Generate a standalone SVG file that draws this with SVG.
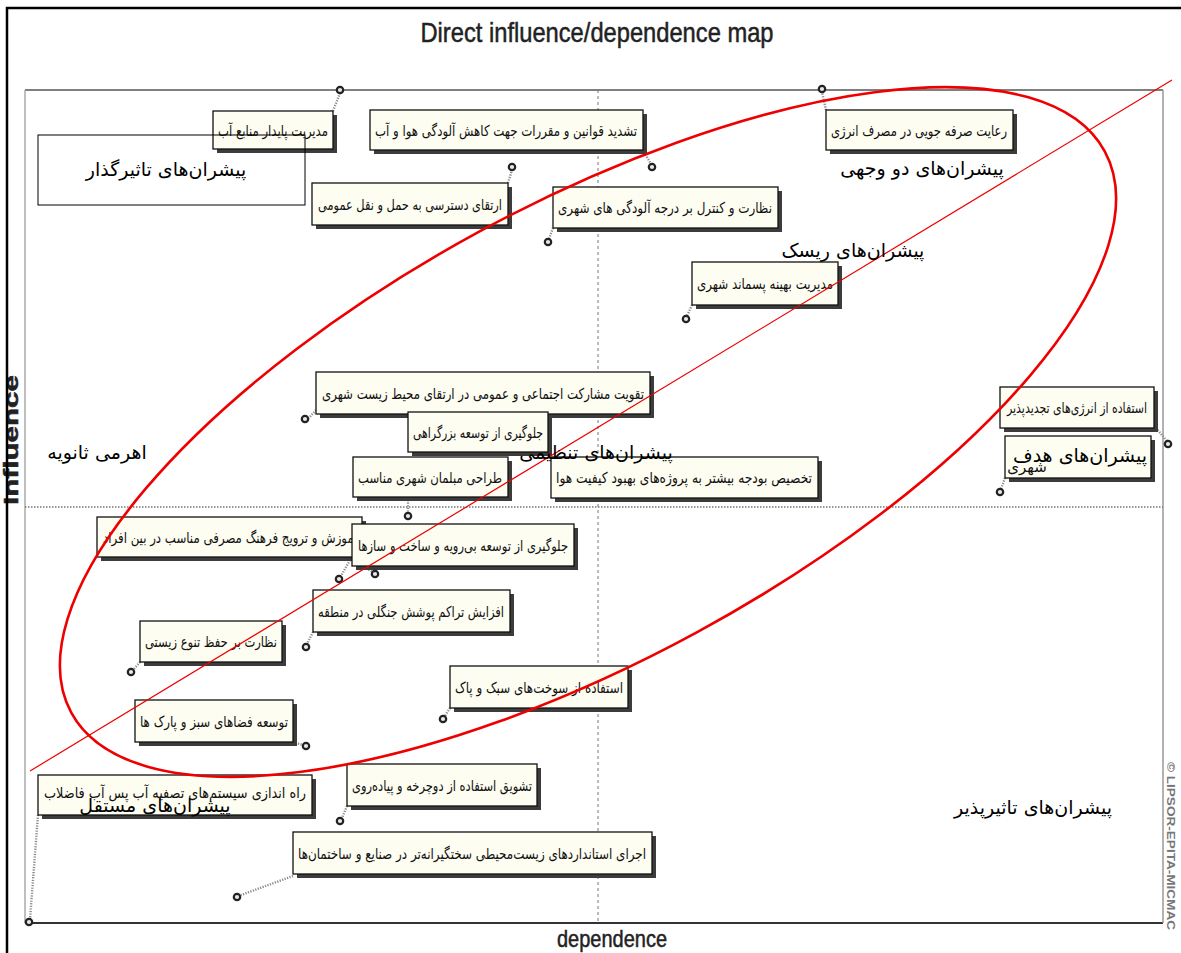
<svg xmlns="http://www.w3.org/2000/svg" width="1181" height="953" viewBox="0 0 1181 953">
<style>
.sh{fill:#3c3c3c}
.bx{fill:#fdfdf1;stroke:#111;stroke-width:1.3}
.nt{font-family:'DejaVu Sans',sans-serif;font-size:15px;fill:#111;text-anchor:middle;direction:rtl}
.ld{stroke:#8a8a8a;stroke-width:2.4;stroke-dasharray:1.2 1.4;fill:none}
.pt{fill:#e8e8e8;stroke:#222;stroke-width:2.2}
.lb{font-family:'DejaVu Sans',sans-serif;font-size:19px;fill:#000;text-anchor:middle;direction:rtl}
.ax{font-family:'Liberation Sans',Arial,sans-serif;fill:#222;stroke:#222;stroke-width:0.5}
</style>
<rect x="0" y="0" width="1181" height="953" fill="#fff"/>
<text class="ax" x="18" y="440" font-size="21" font-weight="bold" text-anchor="middle" transform="rotate(-90 18 440)" textLength="130" lengthAdjust="spacingAndGlyphs">Influence</text>
<rect x="7" y="8" width="1200" height="1000" fill="none" stroke="#000" stroke-width="2.5"/>
<text class="ax" x="597" y="42" font-size="28" text-anchor="middle" textLength="353" lengthAdjust="spacingAndGlyphs">Direct influence/dependence map</text>
<text class="ax" x="612" y="947" font-size="24" text-anchor="middle" textLength="110" lengthAdjust="spacingAndGlyphs">dependence</text>
<text x="1167" y="846" font-family="'Liberation Sans',Arial,sans-serif" font-size="10" font-weight="bold" fill="#777" text-anchor="middle" transform="rotate(90 1167 846)" textLength="168" lengthAdjust="spacingAndGlyphs">© LIPSOR-EPITA-MICMAC</text>
<g id="plot-frame">
<line x1="25" y1="90" x2="1163" y2="90" stroke="#555" stroke-width="1.5"/>
<line x1="25" y1="923" x2="1163" y2="923" stroke="#333" stroke-width="1.8"/>
<line x1="25" y1="90" x2="25" y2="923" stroke="#aaa" stroke-width="1.5"/>
<line x1="1163" y1="90" x2="1163" y2="923" stroke="#999" stroke-width="1.5"/>
<line x1="598" y1="90" x2="598" y2="923" stroke="#777" stroke-width="1" stroke-dasharray="3 3"/>
<line x1="25" y1="507" x2="1163" y2="507" stroke="#777" stroke-width="1.6" stroke-dasharray="1.5 1.5"/>
</g>
<g id="connectors">
<path class="ld" d="M333 111L340 93"/>
<path class="ld" d="M643 150L651 164"/>
<path class="ld" d="M826 110L822 92"/>
<path class="ld" d="M508 183L512 170"/>
<path class="ld" d="M553 228L549 239"/>
<path class="ld" d="M692 305L687 316"/>
<path class="ld" d="M316 410L309 418"/>
<path class="ld" d="M1156 428L1167 441"/>
<path class="ld" d="M1005 478L1001 489"/>
<path class="ld" d="M408 500L408 513"/>
<path class="ld" d="M350 560L341 576"/>
<path class="ld" d="M364 567L373 572"/>
<path class="ld" d="M313 632L307 644"/>
<path class="ld" d="M140 662L134 669"/>
<path class="ld" d="M450 708L445 716"/>
<path class="ld" d="M293 742L303 745"/>
<path class="ld" d="M38 815L30 919"/>
<path class="ld" d="M347 806L342 818"/>
<path class="ld" d="M293 876L241 895"/>
</g>
<g id="n13"><rect class="sh" x="101" y="521" width="265" height="40"/><rect class="bx" x="97" y="517" width="265" height="40"/><text class="nt" x="230" y="543" textLength="254" lengthAdjust="spacingAndGlyphs">آموزش و ترویج فرهنگ مصرفی مناسب در بین افراد</text></g>
<g id="n14"><rect class="sh" x="356" y="528" width="222" height="42"/><rect class="bx" x="352" y="524" width="222" height="42"/><text class="nt" x="463" y="551" textLength="210" lengthAdjust="spacingAndGlyphs">جلوگیری از توسعه بی‌رویه و ساخت و سازها</text></g>
<g id="n1"><rect class="sh" x="217" y="115" width="120" height="38"/><rect class="bx" x="213" y="111" width="120" height="38"/><text class="nt" x="273" y="136" textLength="110" lengthAdjust="spacingAndGlyphs">مدیریت پایدار منابع آب</text></g>
<g id="n2"><rect class="sh" x="374" y="114" width="273" height="40"/><rect class="bx" x="370" y="110" width="273" height="40"/><text class="nt" x="506" y="136" textLength="262" lengthAdjust="spacingAndGlyphs">تشدید قوانین و مقررات جهت کاهش آلودگی هوا و آب</text></g>
<g id="n3"><rect class="sh" x="830" y="114" width="187" height="40"/><rect class="bx" x="826" y="110" width="187" height="40"/><text class="nt" x="919" y="136" textLength="176" lengthAdjust="spacingAndGlyphs">رعایت صرفه جویی در مصرف انرژی</text></g>
<g id="n4"><rect class="sh" x="316" y="187" width="196" height="42"/><rect class="bx" x="312" y="183" width="196" height="42"/><text class="nt" x="410" y="210" textLength="184" lengthAdjust="spacingAndGlyphs">ارتقای دسترسی به حمل و نقل عمومی</text></g>
<g id="n5"><rect class="sh" x="557" y="191" width="225" height="41"/><rect class="bx" x="553" y="187" width="225" height="41"/><text class="nt" x="665" y="213" textLength="214" lengthAdjust="spacingAndGlyphs">نظارت و کنترل بر درجه آلودگی های شهری</text></g>
<g id="n6"><rect class="sh" x="696" y="266" width="146" height="43"/><rect class="bx" x="692" y="262" width="146" height="43"/><text class="nt" x="765" y="289" textLength="136" lengthAdjust="spacingAndGlyphs">مدیریت بهینه پسماند شهری</text></g>
<g id="n7"><rect class="sh" x="320" y="376" width="334" height="42"/><rect class="bx" x="316" y="372" width="334" height="42"/><text class="nt" x="483" y="399" textLength="322" lengthAdjust="spacingAndGlyphs">تقویت مشارکت اجتماعی و عمومی در ارتقای محیط زیست شهری</text></g>
<g id="n8"><rect class="sh" x="412" y="416" width="140" height="40"/><rect class="bx" x="408" y="412" width="140" height="40"/><text class="nt" x="478" y="438" textLength="130" lengthAdjust="spacingAndGlyphs">جلوگیری از توسعه بزرگراهی</text></g>
<g id="n9"><rect class="sh" x="357" y="461" width="155" height="40"/><rect class="bx" x="353" y="457" width="155" height="40"/><text class="nt" x="430" y="483" textLength="144" lengthAdjust="spacingAndGlyphs">طراحی مبلمان شهری مناسب</text></g>
<g id="n10"><rect class="sh" x="555" y="461" width="267" height="41"/><rect class="bx" x="551" y="457" width="267" height="41"/><text class="nt" x="684" y="483" textLength="256" lengthAdjust="spacingAndGlyphs">تخصیص بودجه بیشتر به پروژه‌های بهبود کیفیت هوا</text></g>
<g id="n11"><rect class="sh" x="1004" y="391" width="154" height="41"/><rect class="bx" x="1000" y="387" width="154" height="41"/><text class="nt" x="1077" y="413" font-size="14" textLength="140" lengthAdjust="spacingAndGlyphs">استفاده از انرژی‌های تجدیدپذیر</text></g>
<g id="n12"><rect class="sh" x="1009" y="440" width="146" height="42"/><rect class="bx" x="1005" y="436" width="146" height="42"/><text class="nt" x="1027" y="472" font-size="11">شهری</text></g>
<g id="n15"><rect class="sh" x="317" y="594" width="197" height="42"/><rect class="bx" x="313" y="590" width="197" height="42"/><text class="nt" x="411" y="617" textLength="186" lengthAdjust="spacingAndGlyphs">افزایش تراکم پوشش جنگلی در منطقه</text></g>
<g id="n16"><rect class="sh" x="144" y="625" width="142" height="41"/><rect class="bx" x="140" y="621" width="142" height="41"/><text class="nt" x="211" y="647" textLength="132" lengthAdjust="spacingAndGlyphs">نظارت بر حفظ تنوع زیستی</text></g>
<g id="n17"><rect class="sh" x="454" y="670" width="178" height="42"/><rect class="bx" x="450" y="666" width="178" height="42"/><text class="nt" x="539" y="693" textLength="168" lengthAdjust="spacingAndGlyphs">استفاده از سوخت‌های سبک و پاک</text></g>
<g id="n18"><rect class="sh" x="139" y="704" width="158" height="42"/><rect class="bx" x="135" y="700" width="158" height="42"/><text class="nt" x="214" y="727" textLength="148" lengthAdjust="spacingAndGlyphs">توسعه فضاهای سبز و پارک ها</text></g>
<g id="n19"><rect class="sh" x="42" y="779" width="274" height="40"/><rect class="bx" x="38" y="775" width="274" height="40"/><text class="nt" x="175" y="798" textLength="262" lengthAdjust="spacingAndGlyphs">راه اندازی سیستم‌های تصفیه آب پس آب فاضلاب</text></g>
<g id="n20"><rect class="sh" x="351" y="768" width="190" height="42"/><rect class="bx" x="347" y="764" width="190" height="42"/><text class="nt" x="442" y="791" textLength="180" lengthAdjust="spacingAndGlyphs">تشویق استفاده از دوچرخه و پیاده‌روی</text></g>
<g id="n21"><rect class="sh" x="297" y="836" width="359" height="42"/><rect class="bx" x="293" y="832" width="359" height="42"/><text class="nt" x="472" y="859" textLength="348" lengthAdjust="spacingAndGlyphs">اجرای استانداردهای زیست‌محیطی سختگیرانه‌تر در صنایع و ساختمان‌ها</text></g>
<g id="points">
<circle class="pt" cx="340" cy="90" r="3.2"/>
<circle class="pt" cx="652" cy="167" r="3.2"/>
<circle class="pt" cx="822" cy="89" r="3.2"/>
<circle class="pt" cx="512" cy="167" r="3.2"/>
<circle class="pt" cx="548" cy="242" r="3.2"/>
<circle class="pt" cx="686" cy="319" r="3.2"/>
<circle class="pt" cx="305" cy="419" r="3.2"/>
<circle class="pt" cx="1168" cy="444" r="3.2"/>
<circle class="pt" cx="1000" cy="492" r="3.2"/>
<circle class="pt" cx="408" cy="516" r="3.2"/>
<circle class="pt" cx="339" cy="579" r="3.2"/>
<circle class="pt" cx="375" cy="574" r="3.2"/>
<circle class="pt" cx="306" cy="647" r="3.2"/>
<circle class="pt" cx="131" cy="672" r="3.2"/>
<circle class="pt" cx="443" cy="719" r="3.2"/>
<circle class="pt" cx="306" cy="746" r="3.2"/>
<circle class="pt" cx="29" cy="922" r="3.2"/>
<circle class="pt" cx="340" cy="821" r="3.2"/>
<circle class="pt" cx="237" cy="897" r="3.2"/>
</g>
<g id="overlay">
<line x1="30" y1="771" x2="1172" y2="80" stroke="#e00" stroke-width="1.2"/>
<ellipse cx="588" cy="432" rx="588" ry="228" transform="rotate(-28.5 588 432)" fill="none" stroke="#e00" stroke-width="2.6"/>
<rect x="38" y="135" width="267" height="70" fill="none" stroke="#000" stroke-width="1"/>
<text class="lb" x="166" y="176">پیشران‌های تاثیرگذار</text>
<text class="lb" x="922" y="175">پیشران‌های دو وجهی</text>
<text class="lb" x="853" y="257">پیشران‌های ریسک</text>
<text class="lb" x="97" y="459">اهرمی ثانویه</text>
<text class="lb" x="596" y="459">پیشران‌های تنظیمی</text>
<text class="lb" x="1080" y="462">پیشران‌های هدف</text>
<text class="lb" x="155" y="812">پیشران‌های مستقل</text>
<text class="lb" x="1033" y="814">پیشران‌های تاثیرپذیر</text>
</g>
</svg>
